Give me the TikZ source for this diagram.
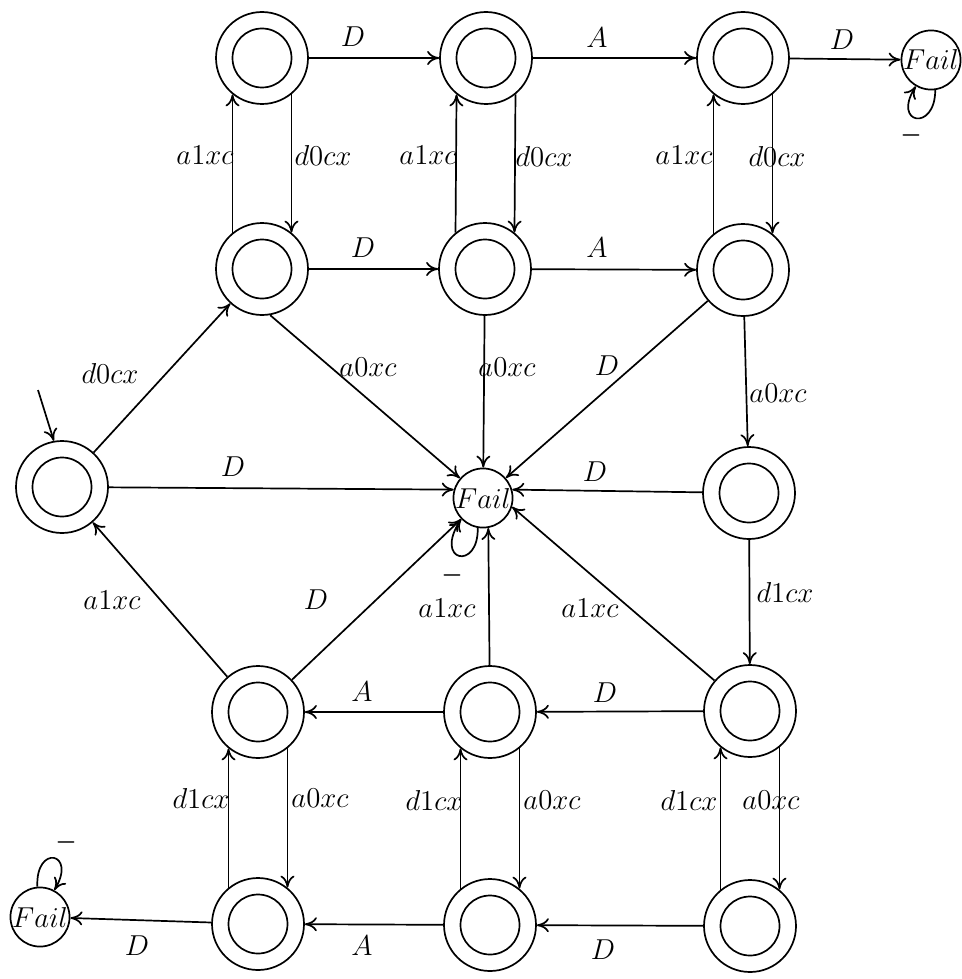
\documentclass[tikz,border=0pt]{standalone}
\usetikzlibrary{arrows.meta}
\begin{document}
\begin{tikzpicture}[x=0.5pt,y=-0.5pt,line width=0.85pt,
  >={To[length=6pt,width=7pt]},
  acc/.style={circle,draw,minimum size=46pt,inner sep=0pt,
    path picture={\draw[line width=0.85pt] (path picture bounding box.center) circle[radius=14.75pt];}},
  fail/.style={circle,draw,minimum size=29pt,inner sep=0pt,font=\fontsize{14.6}{17}\selectfont},
  lbl/.style={inner sep=0pt,font=\fontsize{14.4}{17}\selectfont},
  bar/.style={inner sep=0pt,font=\boldmath\fontsize{11.5}{14}\selectfont}]
\useasboundingbox (0,0) rectangle (962,979);
% states
\node[acc] (N11) at (262,58) {};
\node[acc] (N12) at (486,58) {};
\node[acc] (N13) at (743,58) {};
\node[fail] (FT) at (931,60) {$Fail$};
\node[acc] (N21) at (262,269) {};
\node[acc] (N22) at (485,269) {};
\node[acc] (N23) at (743,270) {};
\node[acc] (N0) at (62,487) {};
\node[fail] (FC) at (483,498) {$Fail$};
\node[acc] (N3) at (749,493) {};
\node[acc] (N41) at (258,712) {};
\node[acc] (N42) at (490,712) {};
\node[acc] (N43) at (750,711) {};
\node[acc] (N51) at (258,924) {};
\node[acc] (N52) at (490,925) {};
\node[acc] (N53) at (750,926) {};
\node[fail] (FB) at (40,917) {$Fail$};
\coordinate (init) at (38,390);
% initial
\draw[->] (init) -- (N0.100);
% top row
\draw[->] (N11) -- (N12) node[lbl,at={(353,37)}] {$D$};
\draw[->] (N12) -- (N13) node[lbl,at={(597,38)}] {$A$};
\draw[->] (N13) -- (FT) node[lbl,at={(842,40)}] {$D$};
\draw[->] (FT.-82) .. controls +(0pt,-21pt) and +(-12pt,-19pt) .. (FT.-120) node[bar,at={(911,135)}] {$-$};
% top verticals
\draw[->] (N21.129) -- (N11.231) node[lbl,at={(205,155)}] {$a1xc$};
\draw[->] (N11.-51) -- (N21.51) node[lbl,at={(323,155)}] {$d0cx$};
\draw[->] (N22.129) -- (N12.231) node[lbl,at={(428,155)}] {$a1xc$};
\draw[->] (N12.-51) -- (N22.51) node[lbl,at={(544,156)}] {$d0cx$};
\draw[->] (N23.129) -- (N13.231) node[lbl,at={(684,155)}] {$a1xc$};
\draw[->] (N13.-51) -- (N23.51) node[lbl,at={(777,156)}] {$d0cx$};
% second row
\draw[->] (N21) -- (N22) node[lbl,at={(363,248)}] {$D$};
\draw[->] (N22) -- (N23) node[lbl,at={(597,248)}] {$A$};
% middle
\draw[->] (N0) -- (N21) node[lbl,at={(110,373)}] {$d0cx$};
\draw[->] (N0) -- (FC.164) node[lbl,at={(233,467)}] {$D$};
\draw[->] (N21.-80) -- (FC) node[lbl,at={(368,367)}] {$a0xc$};
\draw[->] (N22) -- (FC) node[lbl,at={(507,367)}] {$a0xc$};
\draw[->] (N23) -- (FC) node[lbl,at={(607,366)}] {$D$};
\draw[->] (N23) -- (N3) node[lbl,at={(778,393)}] {$a0xc$};
\draw[->] (N3) -- (FC.16) node[lbl,at={(595,472)}] {$D$};
\draw[->] (N3) -- (N43) node[lbl,at={(785,592)}] {$d1cx$};
\draw[->] (N43) -- (FC.-17) node[lbl,at={(590,608)}] {$a1xc$};
\draw[->] (N42) -- (FC.-80) node[lbl,at={(447,608)}] {$a1xc$};
\draw[->] (N41) -- (FC.224) node[lbl,at={(316,600)}] {$D$};
\draw[->] (N41) -- (N0) node[lbl,at={(112,600)}] {$a1xc$};
\draw[->] (FC.-100) .. controls +(0.5pt,-21.5pt) and +(-14pt,-21.5pt) .. (FC.224) node[bar,at={(452,575)}] {$-$};
% fourth row
\draw[->] (N43) -- (N42) node[lbl,at={(605,693)}] {$D$};
\draw[->] (N42) -- (N41) node[lbl,at={(362,692)}] {$A$};
% bottom verticals
\draw[->] (N51.129) -- (N41.231) node[lbl,at={(201,798)}] {$d1cx$};
\draw[->] (N41.-51) -- (N51.51) node[lbl,at={(320,798)}] {$a0xc$};
\draw[->] (N52.129) -- (N42.231) node[lbl,at={(434,800)}] {$d1cx$};
\draw[->] (N42.-51) -- (N52.51) node[lbl,at={(552,800)}] {$a0xc$};
\draw[->] (N53.129) -- (N43.231) node[lbl,at={(689,800)}] {$d1cx$};
\draw[->] (N43.-51) -- (N53.51) node[lbl,at={(771,800)}] {$a0xc$};
% bottom row
\draw[->] (N53) -- (N52) node[lbl,at={(603,950)}] {$D$};
\draw[->] (N52) -- (N51) node[lbl,at={(362,946)}] {$A$};
\draw[->] (N51) -- (FB) node[lbl,at={(137,946)}] {$D$};
\draw[->] (FB.95) .. controls +(-1pt,21.5pt) and +(11.5pt,19pt) .. (FB.62) node[bar,at={(66,842)}] {$-$};
\end{tikzpicture}
\end{document}
